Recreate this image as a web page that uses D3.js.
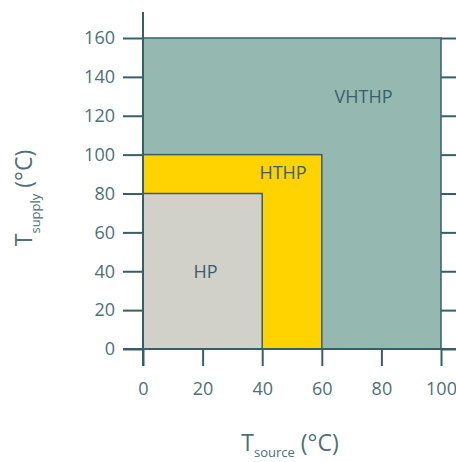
<!DOCTYPE html>
<html>
<head>
<meta charset="utf-8">
<script src="https://cdn.jsdelivr.net/npm/d3@7"></script>
<style>
body { margin: 0; background: #fff; }
text { font-family: "Open Sans", sans-serif; fill: #4d7079; }
</style>
</head>
<body>
<div id="chart"></div>
<script>
// heat pump classes: max source temp, max supply temp
var classes = ["VHTHP", "HTHP", "HP"];
var sourceMax = [100, 60, 40];
var supplyMax = [160, 100, 80];
var labelX = [74, 47, 21];
var labelY = [130, 91, 40];
var fills = ["#95b9b1", "#ffd300", "#d1d1c9"];

var xTicks = [0, 20, 40, 60, 80, 100];
var yTicks = [0, 20, 40, 60, 80, 100, 120, 140, 160];

var W = 456, H = 462;
var axisColor = "#365f69";

var svg = d3.select("#chart")
  .append("svg")
  .attr("width", W)
  .attr("height", H);

var x = d3.scaleLinear().domain([0, 100]).range([143, 441]);
var y = d3.scaleLinear().domain([0, 160]).range([349, 38]);

// regions, biggest first
svg.append("g")
  .selectAll("rect")
  .data(classes)
  .enter()
  .append("rect")
  .attr("x", x(0))
  .attr("y", function (d, i) { return y(supplyMax[i]); })
  .attr("width", function (d, i) { return x(sourceMax[i]) - x(0); })
  .attr("height", function (d, i) { return y(0) - y(supplyMax[i]); })
  .style("fill", function (d, i) { return fills[i]; })
  .style("stroke", axisColor)
  .style("stroke-width", 1.5);

svg.append("g")
  .selectAll("text")
  .data(classes)
  .enter()
  .append("text")
  .attr("x", function (d, i) { return x(labelX[i]); })
  .attr("y", function (d, i) { return y(labelY[i]); })
  .attr("text-anchor", "middle")
  .attr("dominant-baseline", "central")
  .style("font-size", "18px")
  .style("fill", "#3a606b")
  .text(function (d) { return d; });

// y axis
var yAxis = svg.append("g")
  .attr("transform", "translate(" + x(0) + ",0)")
  .call(d3.axisLeft(y).tickValues(yTicks).tickSize(20).tickPadding(8).tickSizeOuter(0));
yAxis.select(".domain").remove();
yAxis.selectAll("line").style("stroke", axisColor).style("stroke-width", 2);
yAxis.selectAll("text").style("font-size", "18px").style("fill", "#4d7079");
yAxis.append("line")
  .attr("x1", 0).attr("x2", 0)
  .attr("y1", 12).attr("y2", 366)
  .style("stroke", axisColor).style("stroke-width", 2);

// right hand tick stubs
var yRight = svg.append("g")
  .attr("transform", "translate(" + x(100) + ",0)")
  .call(d3.axisRight(y).tickValues(yTicks).tickSize(20).tickFormat(""));
yRight.select(".domain").remove();
yRight.selectAll("line").style("stroke", axisColor).style("stroke-width", 2);

// x axis
var xAxis = svg.append("g")
  .attr("transform", "translate(0," + y(0) + ")")
  .call(d3.axisBottom(x).tickValues(xTicks).tickSize(17).tickPadding(16));
xAxis.select(".domain").remove();
xAxis.selectAll("line").style("stroke", axisColor).style("stroke-width", 2);
xAxis.selectAll("text").style("font-size", "18px").style("fill", "#4d7079");
xAxis.append("line")
  .attr("x1", 123).attr("x2", W)
  .attr("y1", 0).attr("y2", 0)
  .style("stroke", axisColor).style("stroke-width", 2);

// axis titles
var xt = svg.append("text")
  .attr("x", 290)
  .attr("y", 451)
  .attr("text-anchor", "middle")
  .style("font-size", "23px");
xt.append("tspan").text("T");
xt.append("tspan").attr("dy", 6).style("font-size", "13px").text("source");
xt.append("tspan").attr("dy", -6).text(" (°C)");

var yt = svg.append("text")
  .attr("transform", "translate(32,198) rotate(-90)")
  .attr("text-anchor", "middle")
  .style("font-size", "23px");
yt.append("tspan").text("T");
yt.append("tspan").attr("dy", 8).style("font-size", "13px").text("supply");
yt.append("tspan").attr("dy", -8).text(" (°C)");
</script>
</body>
</html>
